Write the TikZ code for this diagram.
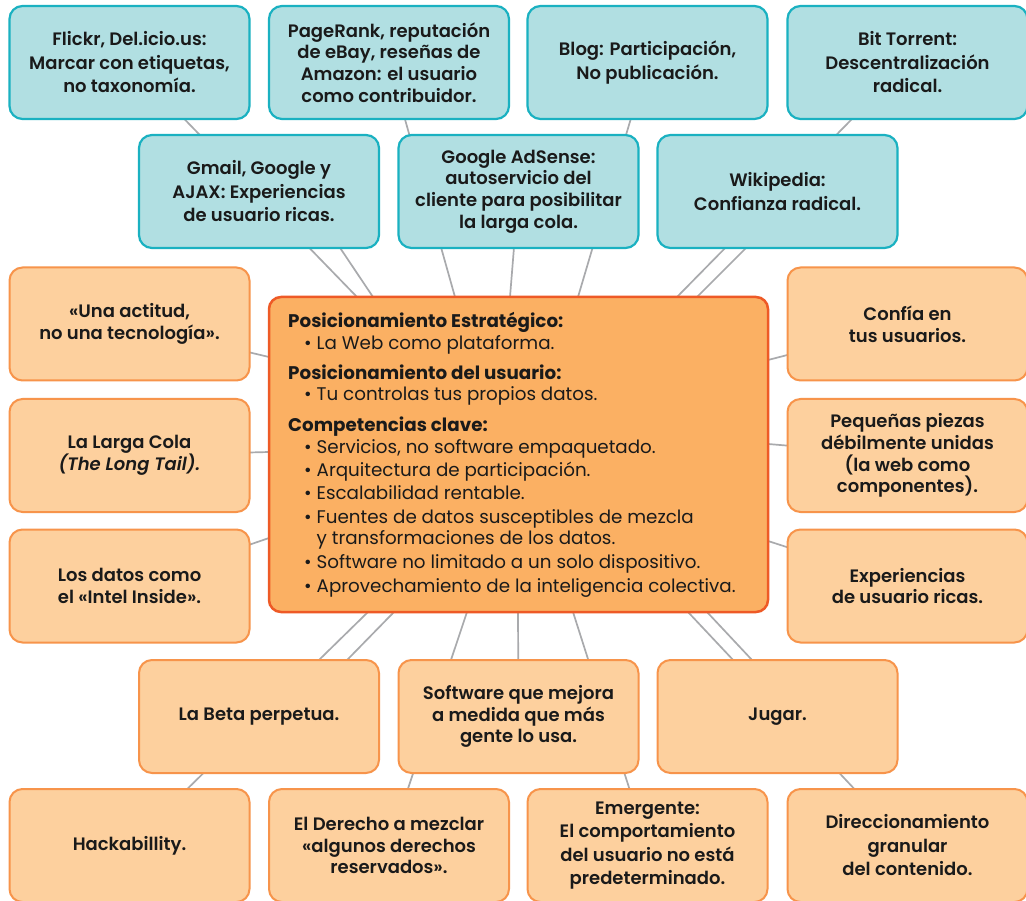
\documentclass[tikz,border=0pt]{standalone}
\usepackage{fontspec}
\setmainfont{Poppins}
\newfontfamily\medfont{Poppins SemiBold}
\usetikzlibrary{calc}
\pgfdeclarelayer{bg}
\pgfsetlayers{bg,main}
\definecolor{tealfill}{HTML}{B1DFE2}
\definecolor{tealline}{HTML}{1AB1C1}
\definecolor{orfill}{HTML}{FDD09E}
\definecolor{orline}{HTML}{F7944B}
\definecolor{cfill}{HTML}{FBB063}
\definecolor{cline}{HTML}{EE5A26}
\definecolor{connc}{HTML}{A9AAAD}
\definecolor{txt}{HTML}{1A1A1A}
\begin{document}
\begin{tikzpicture}[x=1pt,y=-1pt,
  box/.style={rectangle, rounded corners=13pt, minimum width=240pt, minimum height=113pt,
    align=center, inner sep=0pt, text=txt, line width=2.2pt,
    font=\medfont\fontsize{18}{21.7}\selectfont},
  wide/.style={font=\medfont\fontsize{18}{23.5}\selectfont},
  tbox/.style={box, draw=tealline, fill=tealfill},
  obox/.style={box, draw=orline, fill=orfill, line width=2pt},
  link/.style={draw=connc, line width=1.7pt},
  ctxt/.style={anchor=base west, inner sep=0pt, text=txt, font=\fontsize{18.3}{20}\selectfont},
  chead/.style={ctxt, font=\bfseries\fontsize{18.3}{20}\selectfont}
]
\useasboundingbox (0,0) rectangle (1026,901);
% top rows
\node[tbox, wide] (flickr) at (129.5,62.5) {Flickr, Del.icio.us:\\Marcar con etiquetas,\\no taxonomía.};
\node[tbox] (pagerank) at (389,62.5) {PageRank, reputación\\de eBay, reseñas de\\Amazon: el usuario\\como contribuidor.};
\node[tbox, wide] (blog) at (647.5,62.5) {Blog: Participación,\\No publicación.};
\node[tbox, wide] (bittorrent) at (907.5,62.5) {Bit Torrent:\\Descentralización\\radical.};
\node[tbox, wide] (gmail) at (259,191.5) {Gmail, Google y\\AJAX: Experiencias\\de usuario ricas.};
\node[tbox] (adsense) at (518.5,191.5) {Google AdSense:\\autoservicio del\\cliente para posibilitar\\la larga cola.};
\node[tbox, wide] (wiki) at (777.5,191.5) {Wikipedia:\\Confianza radical.};
% sides
\node[obox] (actitud) at (129.5,324) {«Una actitud,\\no una tecnología».};
\node[obox] (longtail) at (129.5,455.5) {La Larga Cola\\\textit{(The Long Tail).}};
\node[obox] (intel) at (129.5,586) {Los datos como\\el «Intel Inside».};
\node[obox] (confia) at (907.5,324) {Confía en\\tus usuarios.};
\node[obox] (piezas) at (907.5,455.5) {Pequeñas piezas\\débilmente unidas\\(la web como\\componentes).};
\node[obox] (ricas) at (907.5,586) {Experiencias\\de usuario ricas.};
% bottom rows
\node[obox] (beta) at (259,716.5) {La Beta perpetua.};
\node[obox] (software) at (518.5,716.5) {Software que mejora\\a medida que más\\gente lo usa.};
\node[obox] (jugar) at (777.5,716.5) {Jugar.};
\node[obox] (hack) at (129.5,845.5) {Hackabillity.};
\node[obox] (derecho) at (389,845.5) {El Derecho a mezclar\\«algunos derechos\\reservados».};
\node[obox, wide] (emergente) at (647.5,845.5) {Emergente:\\El comportamiento\\del usuario no está\\predeterminado.};
\node[obox, wide] (direcc) at (907.5,845.5) {Direccionamiento\\granular\\del contenido.};
% centre
\node[draw=cline, fill=cfill, line width=2.5pt, rounded corners=12pt, minimum width=499pt,
  minimum height=315pt, inner sep=0pt] (core) at (518.5,454.5) {};
\node[chead] (h1) at (288,327.7) {Posicionamiento Estratégico:};
\node[ctxt] (t1) at (316.5,349.3) {\llap{•\kern5pt}La Web como plataforma.};
\node[chead] (h2) at (288,379.3) {Posicionamiento del usuario:};
\node[ctxt] (t2) at (316.5,400.7) {\llap{•\kern5pt}Tu controlas tus propios datos.};
\node[chead] (h3) at (288,431.3) {Competencias clave:};
\node[ctxt] (t3) at (316.5,453) {\llap{•\kern5pt}Servicios, no software empaquetado.};
\node[ctxt] (t4) at (316.5,476.3) {\llap{•\kern5pt}Arquitectura de participación.};
\node[ctxt] (t5) at (316.5,499.7) {\llap{•\kern5pt}Escalabilidad rentable.};
\node[ctxt] (t6) at (316.5,523.7) {\llap{•\kern5pt}Fuentes de datos susceptibles de mezcla};
\node[ctxt] (t6b) at (316.5,544.7) {y transformaciones de los datos.};
\node[ctxt] (t7) at (316.5,568.3) {\llap{•\kern5pt}Software no limitado a un solo dispositivo.};
\node[ctxt] (t8) at (316.5,592) {\llap{•\kern5pt}Aprovechamiento de la inteligencia colectiva.};
% end points on the centre box
\coordinate (ea) at (357,297);
\coordinate (eb) at (373,297);
\coordinate (ec) at (455,297);
\coordinate (ed) at (510,297);
\coordinate (ee) at (578,297);
\coordinate (ef) at (677,297);
\coordinate (eg) at (697,297);
\coordinate (eh) at (368,612);
\coordinate (ei) at (394,612);
\coordinate (ej) at (467,612);
\coordinate (ek) at (518,612);
\coordinate (el) at (573,612);
\coordinate (em) at (688,612);
\coordinate (en) at (707,612);
\coordinate (ela) at (269,357);
\coordinate (elb) at (269,452);
\coordinate (elc) at (269,538);
\coordinate (era) at (768,360);
\coordinate (erb) at (768,444);
\coordinate (erc) at (768,541);
\begin{pgfonlayer}{bg}
\fill[white] (0,0) rectangle (1026,901);
\draw[link] (flickr.center) -- (ea);
\draw[link] ($(gmail.center)+(49,8.5)$) -- (eb);
\draw[link] (pagerank.center) -- (ec);
\draw[link] (adsense.center) -- (ed);
\draw[link] (blog.center) -- (ee);
\draw[link] (bittorrent.center) -- (ef);
\draw[link] ($(wiki.center)+(16.5,8.5)$) -- (eg);
\draw[link] (hack.center) -- (eh);
\draw[link] ($(beta.center)+(49,-16.5)$) -- (ei);
\draw[link] (derecho.center) -- (ej);
\draw[link] (software.center) -- (ek);
\draw[link] (emergente.center) -- (el);
\draw[link] (direcc.center) -- (em);
\draw[link] ($(jugar.center)+(12,-16.5)$) -- (en);
\draw[link] (actitud.center) -- (ela);
\draw[link] (longtail.center) -- (elb);
\draw[link] (intel.center) -- (elc);
\draw[link] (confia.center) -- (era);
\draw[link] (piezas.center) -- (erb);
\draw[link] (ricas.center) -- (erc);
\end{pgfonlayer}
\end{tikzpicture}
\end{document}
